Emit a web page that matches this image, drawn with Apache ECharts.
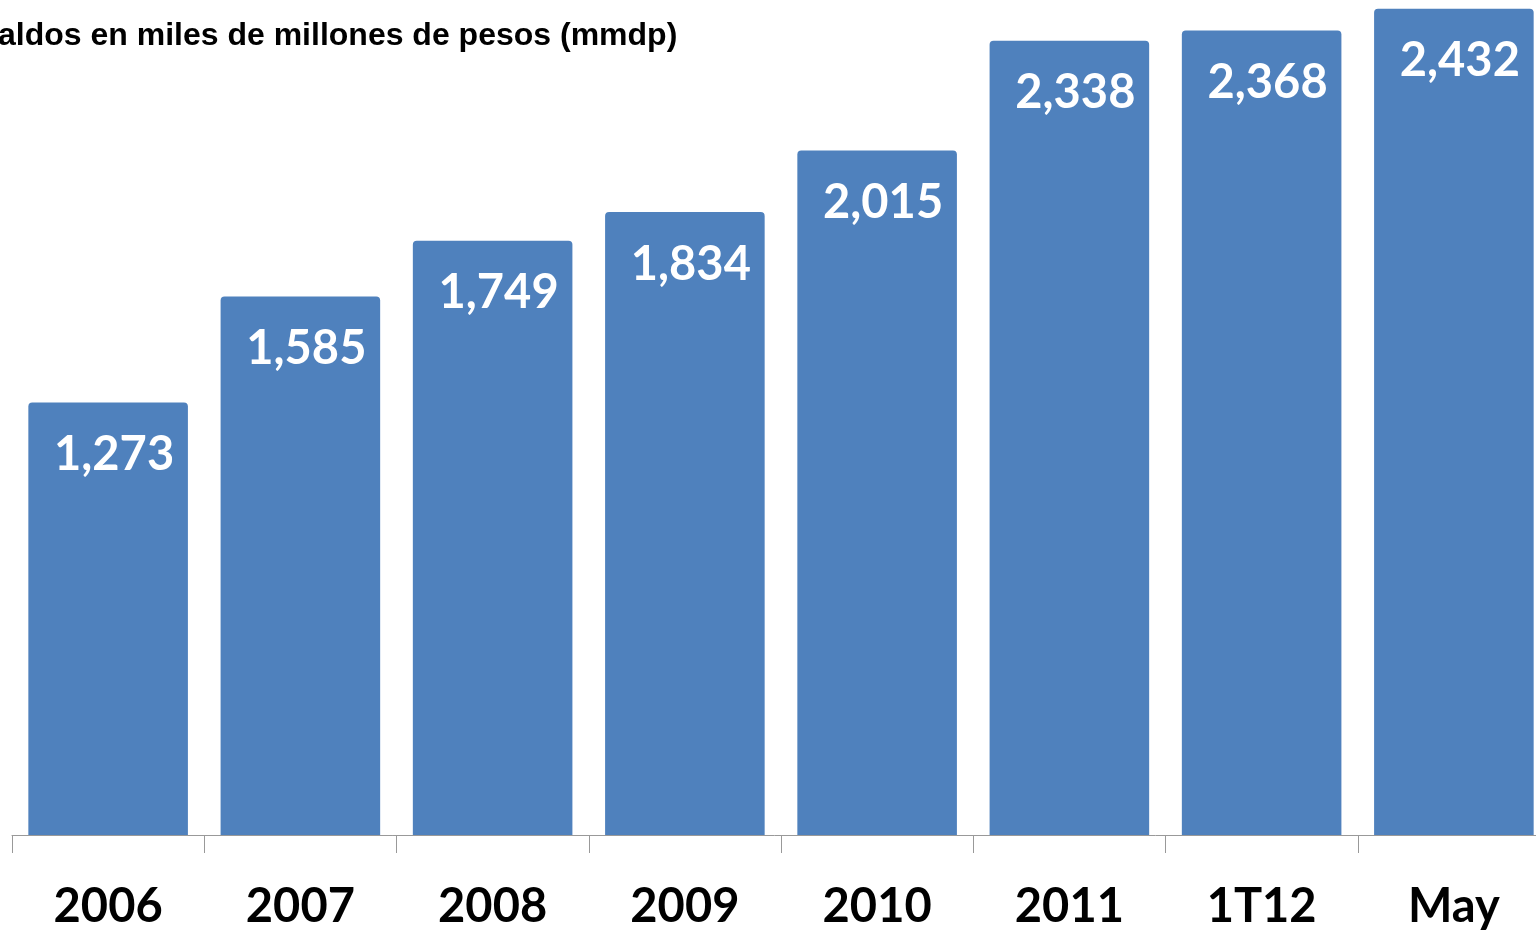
<!DOCTYPE html>
<html>
<head>
<meta charset="utf-8">
<script src="https://cdn.jsdelivr.net/npm/echarts@6/dist/echarts.min.js"></script>
<style>html,body{margin:0;padding:0;background:#fff}#c{width:1536px;height:930px}</style>
</head>
<body>
<div id="c"></div>
<script>
const categories = ['2006', '2007', '2008', '2009', '2010', '2011', '1T12', 'May'];
const saldos = [1273, 1585, 1749, 1834, 2015, 2338, 2368, 2432];
const subtitle = 'aldos en miles de millones de pesos (mmdp)';

const chart = echarts.init(document.getElementById('c'));
chart.setOption({
  animation: false,
  title: {
    text: subtitle,
    left: -2,
    top: 20,
    padding: 0,
    textStyle: { fontFamily: 'Liberation Sans', fontWeight: 'bold', fontSize: 32, color: '#000' }
  },
  grid: { left: 12, top: 6, height: 829, width: 1538, outerBoundsMode: 'none', containLabel: false },
  xAxis: {
    type: 'category',
    data: categories,
    axisLine: { lineStyle: { color: '#999', width: 1 } },
    axisTick: { show: true, alignWithLabel: false, length: 18, lineStyle: { color: '#999' } },
    axisLabel: {
      margin: 48,
      fontFamily: 'Lato',
      fontWeight: 'bold',
      fontSize: 47,
      color: '#000'
    }
  },
  yAxis: {
    type: 'value',
    min: 0,
    max: 2440,
    show: false,
    splitLine: { show: false }
  },
  series: [{
    type: 'bar',
    data: saldos,
    barCategoryGap: '17%',
    itemStyle: { color: '#4F81BD', borderRadius: [4, 4, 0, 0] },
    label: {
      show: true,
      position: 'insideTop',
      distance: 29,
      offset: [6, 0],
      color: '#fff',
      fontFamily: 'Lato',
      fontWeight: 'bold',
      fontSize: 47,
      formatter: p => p.value.toLocaleString('en-US')
    }
  }]
});
</script>
</body>
</html>
